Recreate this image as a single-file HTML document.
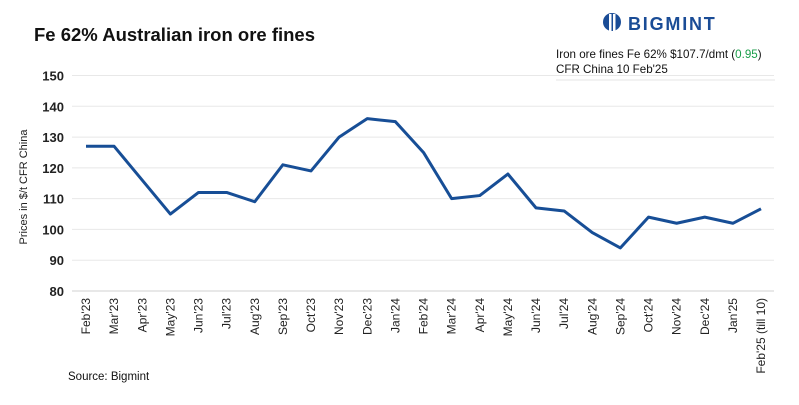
<!DOCTYPE html>
<html><head><meta charset="utf-8"><style>
body{margin:0;background:#fff;width:799px;height:400px;overflow:hidden;font-family:"Liberation Sans",sans-serif}
</style></head><body>
<svg id="c" width="799" height="400" xmlns="http://www.w3.org/2000/svg">
<text x="34" y="41" font-size="18.5" font-weight="bold" fill="#111">Fe 62% Australian iron ore fines</text>
<g>
<circle cx="612" cy="22" r="9" fill="#1a4c96"/>
<rect x="609" y="14" width="2.5" height="18" fill="#fff"/><rect x="613" y="14" width="2.5" height="18" fill="#fff"/>
<text x="628" y="30" font-size="18" font-weight="bold" fill="#1a4c96" letter-spacing="1.8">BIGMINT</text>
</g>
<text x="556" y="58" font-size="11.6" fill="#111">Iron ore fines Fe 62% $107.7/dmt (<tspan fill="#1a9e4a">0.95</tspan>)</text>
<text x="556" y="73" font-size="11.6" fill="#111">CFR China 10 Feb'25</text>
<line x1="556" y1="80" x2="775" y2="80" stroke="#e6e6e6"/>
<text transform="translate(27,187) rotate(-90)" text-anchor="middle" font-size="11" fill="#222">Prices in $/t CFR China</text>
<g id="grid"></g><g id="xl"></g>
<path id="line" fill="none" stroke="#174e96" stroke-width="3" stroke-linejoin="round"/>
<text x="68" y="380" font-size="11.5" fill="#111">Source: Bigmint</text>
</svg>
<script>
const categories=["Feb'23","Mar'23","Apr'23","May'23","Jun'23","Jul'23","Aug'23","Sep'23","Oct'23","Nov'23","Dec'23","Jan'24","Feb'24","Mar'24","Apr'24","May'24","Jun'24","Jul'24","Aug'24","Sep'24","Oct'24","Nov'24","Dec'24","Jan'25","Feb'25 (till 10)"];
const values=[127,127,116,105,112,112,109,121,119,130,136,135,125,110,111,118,107,106,99,94,104,102,104,102,106.7];
const yTicks=[80,90,100,110,120,130,140,150];
const NS="http://www.w3.org/2000/svg";
const y=v=>291-(v-80)*(291-75.5)/70;
const x=i=>86+i*(761-86)/(categories.length-1);
const g=document.getElementById('grid');
yTicks.forEach(t=>{
 const l=document.createElementNS(NS,'line');
 l.setAttribute('x1',72);l.setAttribute('x2',774);l.setAttribute('y1',y(t));l.setAttribute('y2',y(t));
 l.setAttribute('stroke',t===80?'#d0d0d0':'#e8e8e8');
 
 
 g.appendChild(l);
 const tx=document.createElementNS(NS,'text');
 tx.setAttribute('x',64);tx.setAttribute('y',y(t)+5);tx.setAttribute('text-anchor','end');
 tx.setAttribute('font-size','13');tx.setAttribute('font-weight','bold');tx.setAttribute('fill','#222');
 tx.textContent=t;
 
 
 g.appendChild(tx);
});
const xl=document.getElementById('xl');
categories.forEach((c,i)=>{
 const tx=document.createElementNS(NS,'text');
 tx.setAttribute('transform',`translate(${x(i)+4},298) rotate(-90)`);
 tx.setAttribute('text-anchor','end');tx.setAttribute('font-size','12');tx.setAttribute('fill','#222');
 tx.textContent=c;
 
 
 xl.appendChild(tx);
});
document.getElementById('line').setAttribute('d',values.map((v,i)=>(i?'L':'M')+x(i)+','+y(v)).join(''));
</script>
</body></html>
